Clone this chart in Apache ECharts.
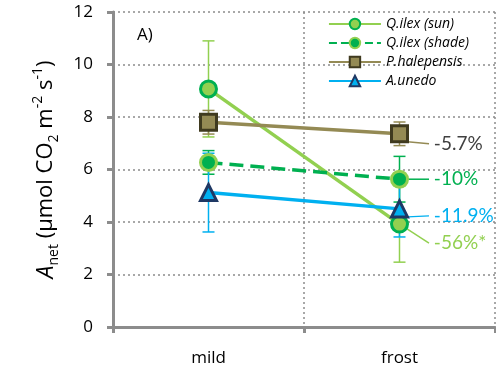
<!DOCTYPE html>
<html>
<head>
<meta charset="utf-8">
<script src="https://cdn.jsdelivr.net/npm/echarts@6/dist/echarts.min.js"></script>
<style>
  html, body { margin: 0; padding: 0; background: #fff; }
  #chart { width: 496px; height: 380px; }
</style>
</head>
<body>
<div id="chart"></div>
<script>
// Net assimilation under mild and frost conditions
const categories = ['mild', 'frost'];
const seriesNames = ['Q.ilex (sun)', 'Q.ilex (shade)', 'P.halepensis', 'A.unedo'];
const ilexSun = [9.07, 3.92];
const ilexSunErr = [1.83, 1.45];
const ilexShade = [6.27, 5.63];
const ilexShadeErr = [0.45, 0.87];
const halepensis = [7.8, 7.36];
const halepensisErr = [0.45, 0.45];
const unedo = [5.12, 4.5];
const unedoErr = [1.5, 1.07];
const changeLabels = ['-56%*', '-10%', '-5.7%', '-11.9%'];
const yTicks = { min: 0, max: 12, interval: 2 };

const FONT = '"Open Sans", "Noto Sans", sans-serif';
const LABEL_FONT = 'Lato, "Open Sans", sans-serif';

const styles = [
  { line: '#92d050', type: 'solid', symbol: 'circle', size: 16, fill: '#92d050', border: '#00b050', label: '#92d050', dy: 19 },
  { line: '#00b050', type: 'dashed', symbol: 'circle', size: 16, fill: '#00b050', border: '#92d050', label: '#00b050', dy: 0 },
  { line: '#948a54', type: 'solid', symbol: 'rect', size: 16, fill: '#948a54', border: '#3f3a1f', label: '#404040', dy: 10 },
  { line: '#00b0f0', type: 'solid', symbol: 'triangle', size: 16, fill: '#00b0f0', border: '#1f3864', label: '#00b0f0', dy: 7 }
];
const values = [ilexSun, ilexShade, halepensis, unedo];
const errors = [ilexSunErr, ilexShadeErr, halepensisErr, unedoErr];

const chart = echarts.init(document.getElementById('chart'));

const errorSeries = values.map((vals, s) => ({
  type: 'custom',
  name: seriesNames[s] + ' err',
  silent: true,
  z: 1,
  data: vals.map((v, i) => [i, v - errors[s][i], v + errors[s][i]]),
  renderItem: function (params, api) {
    const lo = api.coord([api.value(0), api.value(1)]);
    const hi = api.coord([api.value(0), api.value(2)]);
    const cap = 6;
    const st = { stroke: styles[s].line, lineWidth: 1.5 };
    return {
      type: 'group',
      children: [
        { type: 'line', shape: { x1: lo[0], y1: lo[1], x2: hi[0], y2: hi[1] }, style: st },
        { type: 'line', shape: { x1: lo[0] - cap, y1: lo[1], x2: lo[0] + cap, y2: lo[1] }, style: st },
        { type: 'line', shape: { x1: hi[0] - cap, y1: hi[1], x2: hi[0] + cap, y2: hi[1] }, style: st }
      ]
    };
  }
}));

const lineSeries = values.map((vals, s) => ({
  type: 'line',
  name: seriesNames[s],
  z: 3,
  symbol: styles[s].symbol,
  symbolSize: styles[s].size,
  lineStyle: { color: styles[s].line, width: 3.5, type: styles[s].type },
  itemStyle: { color: styles[s].fill, borderColor: styles[s].border, borderWidth: 3 },
  data: vals.map((v, i) => i === vals.length - 1 ? {
    value: v,
    label: {
      show: true,
      position: 'right',
      distance: 20,
      formatter: '\u00a0' + changeLabels[s],
      color: styles[s].label,
      fontSize: 19,
      fontFamily: LABEL_FONT
    }
  } : { value: v }),
  labelLayout: { dy: styles[s].dy },
  labelLine: { show: true, lineStyle: { color: styles[s].line, width: 1.5 } },
  emphasis: { disabled: true }
}));

chart.setOption({
  animation: false,
  grid: { left: 113, right: 1, top: 12, bottom: 53 },
  legend: {
    data: seriesNames,
    orient: 'vertical',
    right: 22,
    top: 12,
    itemWidth: 52,
    itemHeight: 13,
    itemGap: 5,
    textStyle: { fontFamily: FONT, fontSize: 14, fontStyle: 'italic', color: '#000' }
  },
  xAxis: {
    type: 'category',
    data: categories,
    boundaryGap: true,
    axisLine: { show: true, lineStyle: { color: '#8c8c8c', width: 3 } },
    axisTick: { show: true, length: 6, lineStyle: { color: '#8c8c8c', width: 3 } },
    axisLabel: { fontFamily: FONT, fontSize: 17, color: '#000', margin: 23 },
    splitLine: { show: true, lineStyle: { color: '#8c8c8c', type: [2, 3], width: 1.5 } }
  },
  yAxis: {
    type: 'value',
    min: yTicks.min,
    max: yTicks.max,
    interval: yTicks.interval,
    axisLine: { show: true, lineStyle: { color: '#8c8c8c', width: 3 } },
    axisTick: { show: true, length: 6, lineStyle: { color: '#8c8c8c', width: 3 } },
    axisLabel: { fontFamily: FONT, fontSize: 17, color: '#000', margin: 20 },
    splitLine: { show: true, lineStyle: { color: '#8c8c8c', type: [2, 3], width: 1.5 } },
    name: '{a|A}{sub|net}{t| (\u00b5mol CO}{sub|2}{t| m}{sup|-2}{t| s}{sup|-1}{t|)}',
    nameLocation: 'middle',
    nameRotate: 90,
    nameGap: 52,
    nameTextStyle: {
      fontFamily: FONT,
      color: '#000',
      rich: {
        a: { fontSize: 23, fontStyle: 'italic', fontFamily: FONT, lineHeight: 30, verticalAlign: 'middle' },
        t: { fontSize: 22, fontFamily: FONT, lineHeight: 30, verticalAlign: 'middle' },
        sub: { fontSize: 14, fontFamily: FONT, lineHeight: 30, verticalAlign: 'bottom' },
        sup: { fontSize: 14, fontFamily: FONT, lineHeight: 30, verticalAlign: 'top' }
      }
    }
  },
  graphic: [{
    type: 'text',
    left: 137,
    top: 27,
    style: { text: 'A)', font: '17px "Open Sans", sans-serif', fill: '#000' }
  }],
  series: errorSeries.concat(lineSeries)
});
</script>
</body>
</html>
